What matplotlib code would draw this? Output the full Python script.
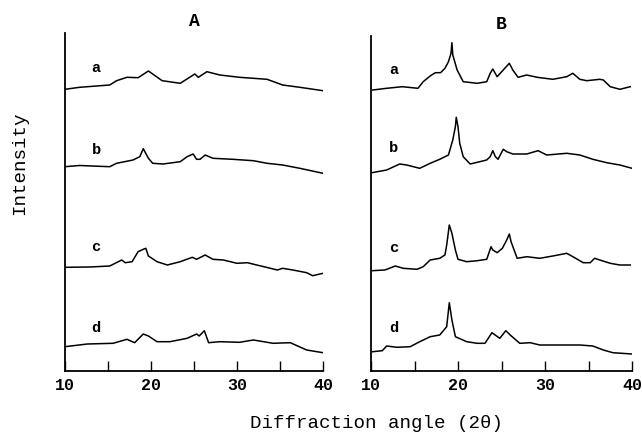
import matplotlib.pyplot as plt

# diffraction patterns, heights in arbitrary intensity units
# panel A
a_x = [10.0, 11.7, 15.2, 16.0, 17.2, 18.5, 19.7, 21.3, 23.4, 25.1, 25.5, 26.5, 28.0, 30.3, 33.5, 35.3, 37.3, 40.0]
a_y = [281.7, 283.7, 286, 290.3, 293.7, 293.3, 300, 290.3, 287.7, 297, 293.7, 299.3, 296, 293.7, 291.7, 286, 283.7, 280.3]

b_x = [10.0, 11.7, 15.2, 16.0, 17.9, 18.7, 19.1, 19.7, 20.2, 21.4, 23.4, 24.2, 24.9, 25.3, 25.7, 26.3, 27.2, 29.5, 31.9, 33.5, 35.3, 37.3, 40.0]
b_y = [204.3, 205.5, 204.3, 207.7, 211, 214.3, 222.3, 212.7, 207.7, 207, 209.3, 214.3, 217, 211.7, 211.7, 216, 212.7, 211.7, 210.3, 207.7, 206, 202.7, 197.7]

c_x = [10.0, 12.9, 15.2, 16.6, 17.0, 17.8, 18.5, 19.1, 19.4, 19.7, 20.7, 21.9, 23.4, 24.8, 25.3, 26.3, 27.2, 28.4, 30.0, 31.2, 32.3, 34.7, 35.3, 36.5, 38.1, 38.8, 40.0]
c_y = [103.7, 104, 105, 111, 108.3, 109.3, 119.3, 121.7, 122.7, 115, 109.3, 106, 109.3, 113.7, 111.7, 116, 111.7, 111, 107.7, 108.3, 106, 101, 102.7, 101, 98.3, 95.3, 97.7]

d_x = [10.0, 12.6, 15.6, 16.4, 17.2, 18.1, 19.1, 19.7, 20.7, 22.2, 24.2, 25.3, 25.6, 26.2, 26.7, 28.0, 30.3, 31.9, 34.2, 36.2, 38.1, 40.0]
d_y = [24.3, 27, 27.7, 29.7, 31.7, 28.3, 37, 35, 29.3, 29.3, 32.7, 37, 35, 40.3, 28.3, 29.3, 28.7, 31, 27.7, 28.3, 21, 18.3]

# panel B
ba_x = [10.2, 11.8, 13.6, 15.4, 16.0, 16.8, 17.4, 18.0, 18.5, 18.9, 19.2, 19.3, 19.4, 19.9, 20.6, 22.2, 23.3, 23.7, 24.0, 24.5, 25.2, 25.9, 26.3, 26.9, 27.9, 29.1, 30.9, 32.5, 33.2, 34.0, 34.8, 36.3, 36.7, 37.5, 38.6, 39.8]
ba_y = [281, 282.7, 284.3, 282.7, 289.3, 295, 298.3, 298.3, 302.7, 309.3, 317.7, 328.3, 316, 301, 289.3, 287.7, 289.3, 297.7, 302, 294.3, 301, 307.7, 301, 293.7, 296, 293.7, 291.7, 294.3, 297.7, 291.7, 290.3, 291.7, 291, 284.3, 281.7, 284.3]

bb_x = [10.1, 11.8, 13.3, 14.1, 15.6, 16.8, 17.9, 18.9, 19.4, 19.7, 19.8, 20.0, 20.2, 20.6, 21.4, 22.5, 23.3, 23.7, 24.0, 24.3, 24.6, 25.2, 25.6, 26.3, 27.9, 29.2, 30.2, 32.5, 34.0, 35.5, 37.1, 38.6, 40.0]
bb_y = [198.3, 201, 207, 206, 202.7, 207.7, 211.7, 216, 231, 244.3, 253.7, 244.3, 227.7, 214.3, 207, 209.3, 211, 214.3, 220.3, 214.3, 211.7, 221.7, 219.3, 217, 217, 220.3, 216, 217.7, 216, 211.7, 208.3, 206, 202.7]

bc_x = [10.1, 11.6, 12.8, 13.7, 15.3, 16.0, 16.8, 17.9, 18.5, 18.7, 19.0, 19.3, 19.7, 20.0, 21.0, 22.2, 23.3, 23.8, 24.0, 24.5, 25.1, 25.6, 25.9, 26.1, 26.8, 27.9, 29.4, 30.9, 32.5, 33.2, 34.4, 35.2, 35.7, 36.3, 37.5, 38.6, 39.8]
bc_y = [100.3, 101, 105, 102.7, 101.7, 104.3, 111, 112.7, 116, 126, 146, 137.7, 121, 111.7, 109.3, 110.3, 111.7, 124.3, 121, 118.3, 122.7, 131, 137, 129.3, 112.7, 114.3, 112.7, 115, 117.7, 114.3, 108.3, 108.3, 112.7, 111, 107.7, 106, 106]

bd_x = [10.2, 11.3, 11.8, 13.0, 14.5, 15.6, 16.8, 17.9, 18.7, 19.0, 19.3, 19.7, 21.0, 22.2, 23.1, 23.9, 24.8, 25.5, 26.0, 27.1, 28.3, 29.4, 31.7, 34.0, 35.5, 36.7, 37.8, 40.0]
bd_y = [19.3, 20.3, 25, 23.7, 24.3, 29.3, 34.3, 36, 44.3, 68.3, 51, 34.3, 29.3, 27.7, 27.7, 38.3, 32.7, 40.3, 36, 27.7, 28.3, 26, 26, 26, 25, 21, 18.3, 17]

curve_names = ["a", "b", "c", "d"]
label_y_A = [303, 221, 124, 43]
label_y_B = [301, 223, 123, 43]

mono = ["Liberation Mono", "DejaVu Sans Mono"]

fig = plt.figure(figsize=(6.42, 4.34), dpi=100)
axA = fig.add_axes([65 / 642, 1 - 371 / 434, 258 / 642, 338 / 434])
axB = fig.add_axes([371 / 642, 1 - 371 / 434, 261 / 642, 335 / 434])

panels = [
    (axA, "A", [(a_x, a_y), (b_x, b_y), (c_x, c_y), (d_x, d_y)], label_y_A, 13.6, 338),
    (axB, "B", [(ba_x, ba_y), (bb_x, bb_y), (bc_x, bc_y), (bd_x, bd_y)], label_y_B, 12.6, 335),
]

for ax, title, curves, lab_y, lab_x, top in panels:
    for (x, y), name, ly in zip(curves, curve_names, lab_y):
        ax.plot(x, y, color="black", lw=1.1)
        ax.text(lab_x, ly, name, family=mono, fontweight="bold", fontsize=11,
                ha="center", va="center")
    ax.set_xlim(10, 40)
    ax.set_ylim(0, top)
    ax.spines["top"].set_visible(False)
    ax.spines["right"].set_visible(False)
    ax.spines["left"].set_linewidth(1.3)
    ax.spines["bottom"].set_linewidth(1.3)
    ax.set_yticks([])
    ax.set_xticks([10, 20, 30, 40])
    ax.set_xticks([15, 25, 35], minor=True)
    ax.tick_params(axis="x", which="both", direction="in", length=7, width=1.0)
    ax.tick_params(axis="x", which="major", pad=5)
    for lbl in ax.get_xticklabels():
        lbl.set_family(mono)
        lbl.set_fontweight("bold")
        lbl.set_fontsize(12)
    ax.set_title(title, family=mono, fontweight="bold", fontsize=13, pad=5)

fig.text(377 / 642, 1 - 423 / 434, "Diffraction angle (2θ)", family=mono,
         fontsize=13.8, ha="center", va="center")
fig.text(20 / 642, 1 - 163 / 434, "Intensity", family=mono, fontsize=13.8,
         rotation=90, ha="center", va="center")

fig.savefig("out.png", dpi=100)
